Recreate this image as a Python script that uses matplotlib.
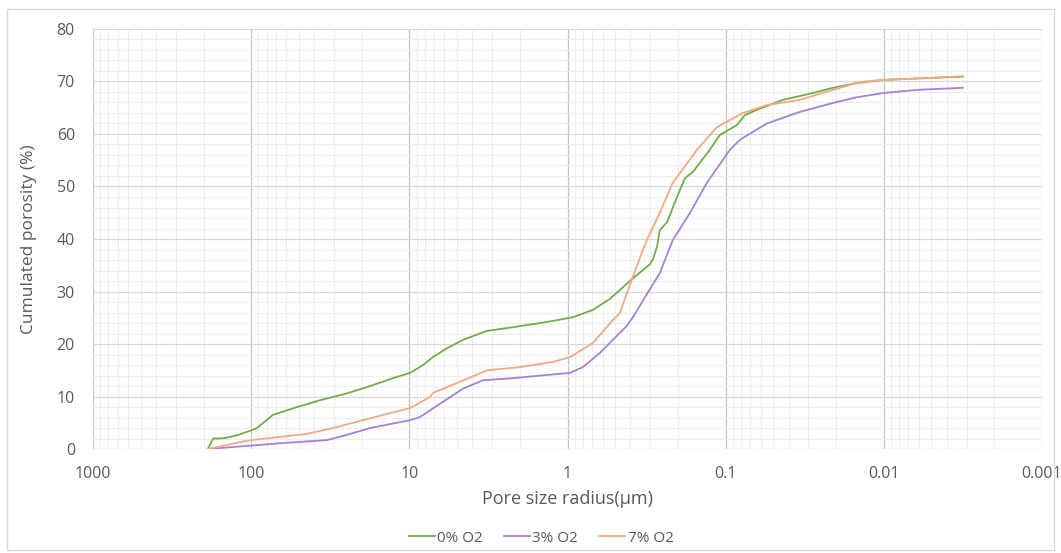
import numpy as np
import matplotlib.pyplot as plt
from matplotlib.ticker import FixedLocator, FixedFormatter, MultipleLocator, LogLocator, NullFormatter
from matplotlib.patches import Rectangle

# --- данные (радиус пор, мкм / накопленная пористость, %) ---
r_0 = [188, 174, 160, 146, 120, 106, 92, 73, 51.3, 36.7, 24.8, 17.7, 12.7, 9.9, 8.2, 7.1,
       5.78, 4.58, 3.23, 2.21, 1.35, 0.925, 0.691, 0.54, 0.386, 0.301, 0.288, 0.272, 0.261,
       0.235, 0.203, 0.181, 0.161, 0.126, 0.109, 0.085, 0.0756, 0.0635, 0.0435, 0.0281,
       0.021, 0.0148, 0.0101, 0.0049, 0.00317]
p_0 = [0, 2.0, 2.0, 2.1, 2.7, 3.3, 4.0, 6.5, 8.0, 9.3, 10.6, 12.0, 13.5, 14.5, 16.0, 17.5,
       19.2, 20.8, 22.5, 23.2, 24.2, 25.1, 26.5, 28.6, 32.5, 35.2, 36.2, 38.5, 41.7,
       43.2, 48.0, 51.6, 52.8, 57.0, 59.8, 61.7, 63.6, 64.6, 66.5, 67.8,
       68.8, 69.7, 70.3, 70.7, 70.9]

r_3 = [188, 106, 65.8, 33.2, 24.8, 17.7, 9.9, 8.57, 5.78, 4.58, 3.43, 2.21, 1.35, 0.966,
       0.80, 0.624, 0.516, 0.421, 0.386, 0.315, 0.261, 0.216, 0.168, 0.1315, 0.094, 0.0813,
       0.055, 0.034, 0.021, 0.0148, 0.0101, 0.00618, 0.00317]
p_3 = [0, 0.6, 1.1, 1.7, 2.7, 4.0, 5.5, 6.1, 9.5, 11.5, 13.1, 13.5, 14.1, 14.5,
       15.6, 18.3, 20.8, 23.5, 25.1, 29.5, 33.5, 39.8, 45.0, 50.7, 57.0, 58.9,
       62.0, 64.2, 65.9, 67.0, 67.8, 68.4, 68.8]

r_7 = [188, 106, 44.4, 30.4, 19.7, 9.9, 7.41, 7.09, 4.79, 3.23, 2.0, 1.24, 0.966, 0.691,
       0.516, 0.467, 0.421, 0.386, 0.334, 0.315, 0.261, 0.216, 0.152, 0.1137, 0.0778,
       0.055, 0.034, 0.021, 0.0142, 0.0101, 0.0049, 0.00317]
p_7 = [0, 1.6, 2.9, 4.0, 5.5, 7.8, 9.9, 10.7, 12.8, 15.0, 15.6, 16.6, 17.5, 20.2,
       24.6, 25.9, 29.7, 32.8, 37.9, 39.8, 45.0, 50.7, 57.0, 61.3, 64.0,
       65.5, 66.5, 68.4, 69.9, 70.3, 70.7, 71.0]

x_ticks = [1000, 100, 10, 1, 0.1, 0.01, 0.001]
x_labels = ['1000', '100', '10', '1', '0.1', '0.01', '0.001']

series = [('0% O2', r_0, p_0, '#70AD47'),
          ('3% O2', r_3, p_3, '#A581D6'),
          ('7% O2', r_7, p_7, '#F5A882')]

plt.rcParams['font.family'] = ['Open Sans', 'DejaVu Sans']
txt = '#595959'

fig = plt.figure(figsize=(10.61, 5.53), dpi=100)
fig.patches.append(Rectangle((0.007, 0.005), 0.986, 0.978, transform=fig.transFigure,
                             fill=False, edgecolor='#d9d9d9', linewidth=1))
ax = fig.add_axes([0.0877, 0.188, 0.8944, 0.7596])

for name, r, p, c in series:
    ax.plot(r, p, color=c, linewidth=1.3, label=name)

ax.set_xscale('log')
ax.set_xlim(1000, 0.001)
ax.set_ylim(0, 80)
ax.xaxis.set_major_locator(FixedLocator(x_ticks))
ax.xaxis.set_major_formatter(FixedFormatter(x_labels))
ax.xaxis.set_minor_locator(LogLocator(base=10, subs=np.arange(2, 10)))
ax.xaxis.set_minor_formatter(NullFormatter())
ax.yaxis.set_major_locator(MultipleLocator(10))
ax.yaxis.set_minor_locator(MultipleLocator(2))

ax.grid(which='minor', color='#eeeeee', linewidth=0.8)
ax.grid(which='major', axis='y', color='#d9d9d9', linewidth=0.9)
ax.grid(which='major', axis='x', color='#c4c4c4', linewidth=0.9)
ax.set_axisbelow(True)
for s in ax.spines.values():
    s.set_visible(False)
ax.tick_params(which='both', length=0, labelsize=11.5, labelcolor=txt)
ax.tick_params(axis='y', pad=13)
ax.tick_params(axis='x', pad=12)

ax.set_xlabel('Pore size radius(μm)', fontsize=13, color=txt)
ax.set_ylabel('Cumulated porosity (%)', fontsize=12.5, color=txt)
ax.xaxis.set_label_coords(0.5, -0.098)
ax.yaxis.set_label_coords(-0.059, 0.5)

fig.legend(loc='center', bbox_to_anchor=(0.51, 0.027), ncol=3, frameon=False,
           fontsize=11, labelcolor=txt, handlelength=1.7, handletextpad=0.15, columnspacing=1.4)

fig.savefig('out.png', dpi=100)
